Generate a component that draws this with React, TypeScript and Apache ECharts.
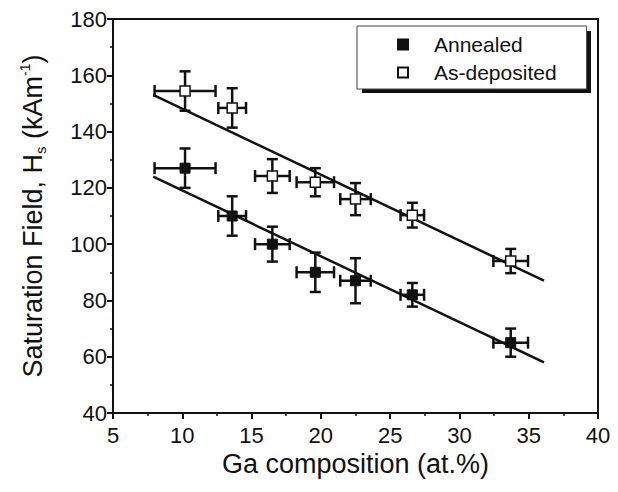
import React, { useEffect, useRef } from "react";
import * as echarts from "echarts";

const gaComposition = [10.2, 13.6, 16.5, 19.6, 22.5, 26.6, 33.7];
const gaError = [2.2, 1.0, 1.25, 1.35, 1.1, 0.85, 1.25];
const annealedHs = [127, 110, 100, 90, 87, 82, 65];
const annealedErr = [7, 7, 6.2, 7, 8, 4.2, 5];
const depositedHs = [154.4, 148.4, 124.2, 122, 116, 110.3, 94];
const depositedErr = [7, 7, 6, 5, 5.7, 4.4, 4.3];
const fitX = [7.9, 36.1];
const annealedFit = [124, 58];
const depositedFit = [153, 87];

const FONT = "'Liberation Sans', Arial, sans-serif";
const INK = "#111";

function errRender(params: any, api: any) {
  const x = api.value(0);
  const y = api.value(1);
  const xe = api.value(2);
  const ye = api.value(3);
  const l = api.coord([x - xe, y]);
  const r = api.coord([x + xe, y]);
  const t = api.coord([x, y + ye]);
  const b = api.coord([x, y - ye]);
  const hc = 6;
  const vc = 5.5;
  const st = { stroke: INK, lineWidth: 2.5 };
  return {
    type: "group",
    children: [
      { type: "line", shape: { x1: l[0], y1: l[1], x2: r[0], y2: r[1] }, style: st },
      { type: "line", shape: { x1: t[0], y1: t[1], x2: b[0], y2: b[1] }, style: st },
      { type: "line", shape: { x1: l[0], y1: l[1] - hc, x2: l[0], y2: l[1] + hc }, style: st },
      { type: "line", shape: { x1: r[0], y1: r[1] - hc, x2: r[0], y2: r[1] + hc }, style: st },
      { type: "line", shape: { x1: t[0] - vc, y1: t[1], x2: t[0] + vc, y2: t[1] }, style: st },
      { type: "line", shape: { x1: b[0] - vc, y1: b[1], x2: b[0] + vc, y2: b[1] }, style: st },
    ],
  };
}

export default function App() {
  const ref = useRef<HTMLDivElement>(null);
  useEffect(() => {
    if (!ref.current) return;
    const chart = echarts.init(ref.current, undefined, { renderer: "svg" });
    const annealedErrData = gaComposition.map((x, i) => [x, annealedHs[i], gaError[i], annealedErr[i]]);
    const depositedErrData = gaComposition.map((x, i) => [x, depositedHs[i], gaError[i], depositedErr[i]]);
    chart.setOption({
      animation: false,
      backgroundColor: "#fff",
      textStyle: { fontFamily: FONT },
      grid: {
        left: 113,
        right: 20,
        top: 19,
        bottom: 79,
        show: true,
        borderColor: INK,
        borderWidth: 2,
        backgroundColor: "transparent",
      },
      xAxis: {
        type: "value",
        min: 5,
        max: 40,
        interval: 5,
        name: "Ga composition (at.%)",
        nameLocation: "middle",
        nameGap: 37,
        nameTextStyle: { fontSize: 27, color: INK, fontFamily: FONT },
        axisLine: { lineStyle: { color: INK, width: 2 } },
        axisTick: { inside: false, length: 6, lineStyle: { color: INK, width: 2 } },
        minorTick: { show: true, splitNumber: 2, length: 3, lineStyle: { color: INK, width: 1.5 } },
        axisLabel: { fontSize: 22, color: INK, margin: 11, fontFamily: FONT },
        splitLine: { show: false },
      },
      yAxis: {
        type: "value",
        min: 40,
        max: 180,
        interval: 20,
        name: "{a|Saturation Field, H}{sub|s}{a| (kAm}{sup|-1}{a|)}",
        nameLocation: "middle",
        nameGap: 65,
        nameTextStyle: {
          fontSize: 27,
          color: INK,
          fontFamily: FONT,
          rich: {
            a: { fontSize: 27, color: INK, fontFamily: FONT, lineHeight: 30 },
            sub: { fontSize: 15, color: INK, fontFamily: FONT, verticalAlign: "bottom", lineHeight: 15 },
            sup: { fontSize: 14, color: INK, fontFamily: FONT, verticalAlign: "top", lineHeight: 14 },
          },
        },
        axisLine: { lineStyle: { color: INK, width: 2 } },
        axisTick: { inside: false, length: 6, lineStyle: { color: INK, width: 2 } },
        minorTick: { show: true, splitNumber: 2, length: 3, lineStyle: { color: INK, width: 1.5 } },
        axisLabel: { fontSize: 22, color: INK, margin: 6, fontFamily: FONT },
        splitLine: { show: false },
      },
      legend: {
        orient: "vertical",
        left: 357,
        top: 26,
        z: 20,
        padding: [8, 30, 6, 40],
        itemGap: 7,
        itemWidth: 10,
        itemHeight: 10,
        backgroundColor: "#fff",
        borderColor: "#444",
        borderWidth: 1,
        textStyle: { fontSize: 21, color: INK, fontFamily: FONT, padding: [0, 0, 0, 21] },
        data: [
          { name: "Annealed", icon: "rect" },
          { name: "As-deposited", icon: "rect" },
        ],
      },
      graphic: [
        {
          type: "rect",
          z: 1,
          shape: { x: 362, y: 31, width: 229, height: 62 },
          style: { fill: INK },
        },
      ],
      series: [
        {
          type: "line",
          data: fitX.map((x, i) => [x, annealedFit[i]]),
          showSymbol: false,
          lineStyle: { color: INK, width: 2.5 },
          z: 2,
        },
        {
          type: "line",
          data: fitX.map((x, i) => [x, depositedFit[i]]),
          showSymbol: false,
          lineStyle: { color: INK, width: 2.5 },
          z: 2,
        },
        {
          type: "custom",
          renderItem: errRender,
          data: annealedErrData,
          z: 3,
        },
        {
          type: "custom",
          renderItem: errRender,
          data: depositedErrData,
          z: 3,
        },
        {
          name: "Annealed",
          type: "scatter",
          symbol: "rect",
          symbolSize: 10,
          itemStyle: { color: INK, borderColor: INK, borderWidth: 1, opacity: 1 },
          data: gaComposition.map((x, i) => [x, annealedHs[i]]),
          z: 5,
        },
        {
          name: "As-deposited",
          type: "scatter",
          symbol: "rect",
          symbolSize: 10,
          itemStyle: { color: "#fff", borderColor: INK, borderWidth: 1.5, opacity: 1 },
          data: gaComposition.map((x, i) => [x, depositedHs[i]]),
          z: 5,
        },
      ],
    });
    return () => chart.dispose();
  }, []);
  return (
    <div
      ref={ref}
      style={{ position: "fixed", left: 0, top: 0, width: 618, height: 492, background: "#fff" }}
    />
  );
}
